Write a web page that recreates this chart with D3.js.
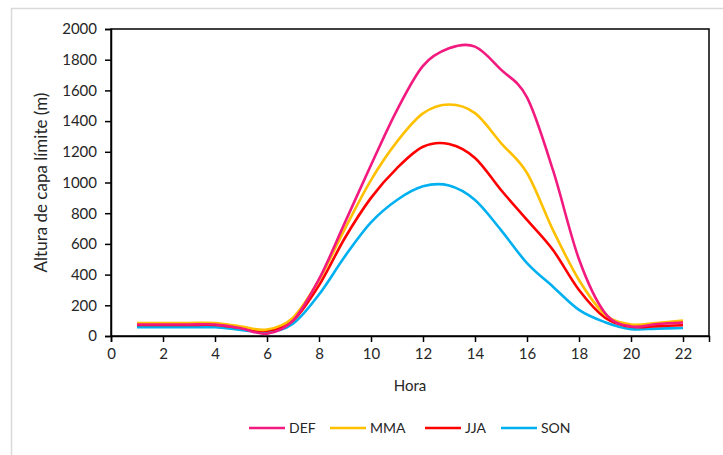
<!DOCTYPE html>
<html><head><meta charset="utf-8">
<script src="https://cdn.jsdelivr.net/npm/d3@7"></script>
<style>body{margin:0;background:#fff}svg{display:block}text{font-family:Lato,"Open Sans",sans-serif;fill:#262626}</style>
</head><body>
<svg id="c" width="723" height="455"></svg>
<script>
const hours = [1,2,3,4,5,6,7,8,9,10,11,12,13,14,15,16,17,18,19,20,21,22];
const seriesNames = ["DEF","MMA","JJA","SON"];
const seriesColors = ["#F2197F","#FFC000","#FF0000","#00B0F0"];
const DEF = [75,75,75,75,50,15,100,370,740,1114,1472,1760,1874,1885,1735,1555,1080,500,150,62,78,88];
const MMA = [85,85,85,85,62,42,120,365,700,1016,1266,1450,1508,1452,1257,1062,690,365,140,75,85,100];
const JJA = [72,72,72,72,52,35,100,330,640,900,1094,1233,1251,1160,951,756,560,300,120,60,64,70];
const SON = [57,57,57,57,40,25,80,270,520,740,886,975,980,886,690,475,321,170,90,45,48,52];
const seriesValues = [DEF,MMA,JJA,SON];
const yTicks = [0,200,400,600,800,1000,1200,1400,1600,1800,2000];
const xTicks = [0,2,4,6,8,10,12,14,16,18,20,22];

const svg = d3.select("#c");
const L=111,R=709,T=29,B=336;
const x = d3.scaleLinear().domain([0,23]).range([L,R]);
const y = d3.scaleLinear().domain([0,2000]).range([B,T]);

svg.append("rect").attr("x",11.5).attr("y",8.5).attr("width",800).attr("height",500)
  .attr("fill","none").attr("stroke","#d9d9d9").attr("stroke-width",1.5);

svg.append("rect").attr("x",L).attr("y",T).attr("width",R-L).attr("height",B-T)
  .attr("fill","none").attr("stroke","#000").attr("stroke-width",1.5);

const yAxis = svg.append("g").attr("transform",`translate(${L},0)`)
  .call(d3.axisLeft(y).tickValues(yTicks).tickFormat(d3.format("d")).tickSize(6).tickPadding(8));
const xAxis = svg.append("g").attr("transform",`translate(0,${B})`)
  .call(d3.axisBottom(x).tickValues(xTicks).tickFormat(d3.format("d")).tickSize(6).tickPadding(6));
[yAxis,xAxis].forEach(a=>{
  a.select(".domain").attr("stroke","#000").attr("stroke-width",1.5);
  a.selectAll(".tick line").attr("stroke","#000").attr("stroke-width",1.5);
  a.selectAll("text").style("font-size","15px").attr("fill","#262626").style("font-family","Lato,sans-serif");
});

const line = d3.line().x((d,i)=>x(hours[i])).y(d=>y(d)).curve(d3.curveCatmullRom.alpha(0));
for (let s=seriesValues.length-1;s>=0;s--){
  svg.append("path").datum(seriesValues[s]).attr("d",line)
    .attr("fill","none").attr("stroke",seriesColors[s]).attr("stroke-width",2.6);
}

svg.append("text").attr("x",(L+R)/2).attr("y",391).attr("text-anchor","middle")
  .style("font-size","15px").text("Hora");
svg.append("text").attr("transform",`translate(47,${(T+B)/2}) rotate(-90)`)
  .attr("text-anchor","middle").style("font-size","17px").text("Altura de capa límite (m)");

const legX = [249,330,425,501];
seriesNames.forEach((n,i)=>{
  const g = svg.append("g");
  g.append("line").attr("x1",legX[i]).attr("x2",legX[i]+36).attr("y1",428).attr("y2",428)
    .attr("stroke",seriesColors[i]).attr("stroke-width",2.6);
  g.append("text").attr("x",legX[i]+40).attr("y",433).style("font-size","14px").text(n);
});
</script>
</body></html>
